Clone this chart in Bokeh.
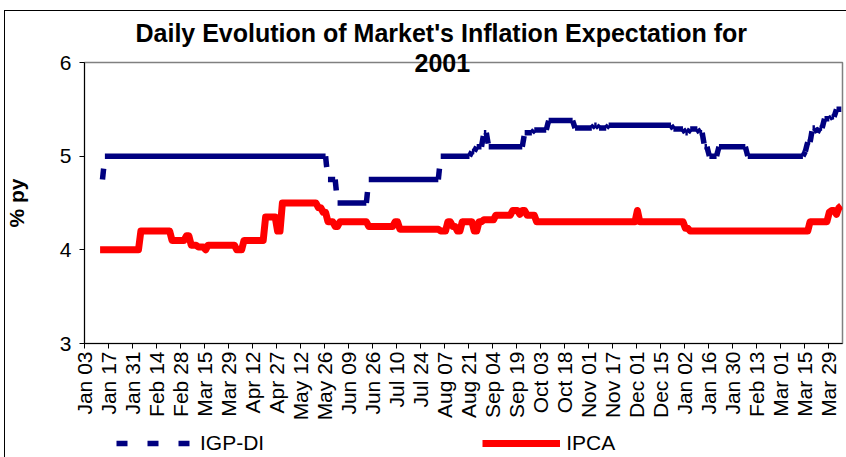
import math
import numpy as np
import pandas as pd
from bokeh.plotting import figure
from bokeh.layouts import column
from bokeh.models import Range1d, FixedTicker, Legend, LegendItem, Title
from bokeh.embed import file_html
from bokeh.resources import INLINE

# ---------------- data ----------------
holidays = ["2000-03-06", "2000-03-07", "2000-04-21", "2000-05-01", "2000-06-22",
            "2000-09-07", "2000-10-12", "2000-11-02", "2000-11-15", "2000-12-25",
            "2001-01-01", "2001-02-26", "2001-02-27"]

tick_labels = ["Jan 03", "Jan 17", "Jan 31", "Feb 14", "Feb 28", "Mar 15", "Mar 29",
               "Apr 12", "Apr 27", "May 12", "May 26", "Jun 09", "Jun 26", "Jul 10",
               "Jul 24", "Aug 07", "Aug 21", "Sep 04", "Sep 19", "Oct 03", "Oct 18",
               "Nov 01", "Nov 17", "Dec 01", "Dec 15", "Jan 02", "Jan 16", "Jan 30",
               "Feb 13", "Mar 01", "Mar 15", "Mar 29"]

# IPCA: dates where the expectation changed, and the new value
ipca_dates = ["2000-01-11", "2000-02-03", "2000-02-22", "2000-03-01", "2000-03-03",
              "2000-03-10", "2000-03-15", "2000-03-16", "2000-04-03", "2000-04-06",
              "2000-04-19", "2000-04-27", "2000-05-02", "2000-05-23", "2000-05-25",
              "2000-05-29", "2000-06-01", "2000-06-05", "2000-06-21", "2000-07-07",
              "2000-07-11", "2000-08-03", "2000-08-08", "2000-08-10", "2000-08-14",
              "2000-08-16", "2000-08-23", "2000-08-25", "2000-08-29", "2000-09-05",
              "2000-09-15", "2000-09-20", "2000-09-21", "2000-09-25", "2000-09-29",
              "2000-12-01", "2000-12-04", "2001-01-02", "2001-01-04", "2001-03-19",
              "2001-03-29", "2001-03-30", "2001-04-03", "2001-04-04", "2001-04-05"]
ipca_values = [4.00, 4.20, 4.10, 4.15, 4.05,
               4.03, 4.00, 4.05, 4.00, 4.10,
               4.35, 4.20, 4.50, 4.45, 4.40,
               4.30, 4.25, 4.30, 4.25, 4.30,
               4.22, 4.20, 4.30, 4.25, 4.20,
               4.30, 4.20, 4.30, 4.32, 4.37,
               4.42, 4.38, 4.42, 4.37, 4.30,
               4.42, 4.30, 4.23, 4.20, 4.30,
               4.40, 4.42, 4.38, 4.45, 4.47]

# IGP-DI
igp_dates = ["2000-01-12", "2000-01-13", "2000-05-29", "2000-06-02", "2000-06-21",
             "2000-08-03", "2000-08-22", "2000-08-24", "2000-08-29", "2000-08-31",
             "2000-09-22", "2000-09-28", "2000-10-06", "2000-10-24", "2000-11-06",
             "2000-11-08", "2000-11-14", "2000-12-22", "2001-01-02", "2001-01-04",
             "2001-01-10", "2001-01-12", "2001-01-16", "2001-01-22", "2001-02-07",
             "2001-03-15", "2001-03-16", "2001-03-20", "2001-03-22", "2001-03-23",
             "2001-03-27", "2001-03-30", "2001-04-03"]
igp_values = [4.75, 5.00, 4.75, 4.50, 4.75,
              5.00, 5.05, 5.10, 5.25, 5.10,
              5.25, 5.28, 5.38, 5.30, 5.33,
              5.30, 5.33, 5.29, 5.25, 5.29,
              5.25, 5.10, 5.00, 5.10, 5.00,
              5.05, 5.15, 5.30, 5.25, 5.30,
              5.40, 5.42, 5.50]

# ---------------- build daily series ----------------
days = pd.bdate_range("2000-01-03", "2001-04-05")
days = days[~days.isin(pd.to_datetime(holidays))]
n = len(days)
xs = np.arange(n)


def daily(dates, vals):
    s = pd.Series(np.nan, index=days)
    s.loc[pd.to_datetime(dates)] = vals
    return s.ffill().to_numpy()


ipca = daily(ipca_dates, ipca_values)
igp = daily(igp_dates, igp_values)

# IGP-DI drawn Excel-like: flat runs solid, day-to-day jumps dashed
run_xs, run_ys = [], []
jx0, jy0, jx1, jy1 = [], [], [], []
start = None
for i in range(n):
    if np.isnan(igp[i]):
        continue
    if start is None:
        start = i
    last = (i == n - 1) or igp[i + 1] != igp[i]
    if last:
        if i > start:
            run_xs.append([start, i])
            run_ys.append([igp[i], igp[i]])
        if i < n - 1:
            jx0.append(i); jy0.append(igp[i]); jx1.append(i + 1); jy1.append(igp[i + 1])
        start = None

# ---------------- styles ----------------
FONT = "Liberation Sans"
RED, NAVY = "#FF0000", "#000080"
ipca_style = dict(line_color=RED, line_width=7, line_join="round")
igp_style = dict(line_color=NAVY, line_width=5.5, line_cap="butt")

# ---------------- main figure ----------------
p = figure(width=846, height=427, output_backend="svg", toolbar_location=None,
           x_range=Range1d(-0.5, n - 0.5), y_range=Range1d(3, 6),
           min_border_left=84, min_border_right=4, min_border_top=62, min_border_bottom=84,
           outline_line_color="#808080", outline_line_width=1.5,
           background_fill_color="white", border_fill_alpha=0)
p.styles = {
    "background": ("linear-gradient(#000, #000) 4px 10px / 1px 100% no-repeat, "
                   "linear-gradient(#000, #000) 4px 10px / 100% 1px no-repeat, white"),
}
p.xgrid.visible = False
p.ygrid.visible = False

p.line(xs, ipca, **ipca_style)
p.multi_line(run_xs, run_ys, **igp_style)
p.segment(x0=jx0, y0=jy0, x1=jx1, y1=jy1, line_dash="11 20", **igp_style)

# axes
tick_pos = [10 * k - 0.5 for k in range(len(tick_labels))]
p.xaxis.ticker = FixedTicker(ticks=tick_pos)
p.xaxis.major_label_overrides = {t: lab for t, lab in zip(tick_pos, tick_labels)}
p.xaxis.major_label_orientation = math.pi / 2
p.xaxis.major_label_standoff = 3
p.xaxis.major_label_text_font = FONT
p.xaxis.major_label_text_font_size = "21px"
p.xaxis.major_label_text_color = "black"
p.xaxis.minor_tick_line_color = None
p.xaxis.major_tick_out = 5
p.xaxis.major_tick_in = 0
p.xaxis.axis_line_color = "black"
p.xaxis.major_tick_line_color = "black"

p.yaxis.ticker = FixedTicker(ticks=[3, 4, 5, 6])
p.yaxis.major_label_text_font = FONT
p.yaxis.major_label_text_font_size = "21px"
p.yaxis.major_label_text_color = "black"
p.yaxis.major_label_standoff = 8
p.yaxis.minor_tick_line_color = None
p.yaxis.major_tick_out = 5
p.yaxis.major_tick_in = 0
p.yaxis.axis_line_color = "black"
p.yaxis.major_tick_line_color = "black"
p.yaxis.axis_label = "% py"
p.yaxis.axis_label_text_font = FONT
p.yaxis.axis_label_text_font_style = "bold"
p.yaxis.axis_label_text_font_size = "21px"
p.yaxis.axis_label_text_color = "black"
p.yaxis.axis_label_standoff = 29

# title: two lines, the second one sitting on the top edge of the plot area
title_style = dict(align="left", text_font=FONT, text_font_style="bold",
                   text_font_size="25px", text_color="black")
p.add_layout(Title(text="2001", offset=330, standoff=-19, **title_style), "above")
p.add_layout(Title(text="Daily Evolution of Market's Inflation Expectation for",
                   offset=51, standoff=30, **title_style), "above")

# ---------------- legend strip ----------------
# legend renderers carry the real series; the strip's y-range keeps them out of view
pl = figure(width=846, height=30, output_backend="svg", toolbar_location=None,
            x_range=Range1d(-0.5, n - 0.5), y_range=Range1d(0, 1),
            min_border_left=0, min_border_right=0, min_border_top=0, min_border_bottom=0,
            outline_line_color=None, border_fill_alpha=0, background_fill_alpha=0)
pl.styles = {"background": "linear-gradient(#000, #000) 4px 0 / 1px 100% no-repeat, white"}
pl.axis.visible = False
pl.xgrid.visible = False
pl.ygrid.visible = False
leg_igp = pl.segment(x0=jx0, y0=jy0, x1=jx1, y1=jy1, line_dash="11 20", **igp_style)
leg_ipca = pl.line(xs, ipca, **ipca_style)
legend = Legend(items=[LegendItem(label="IGP-DI", renderers=[leg_igp]),
                       LegendItem(label="IPCA", renderers=[leg_ipca])],
                location=(32, 2), orientation="horizontal", padding=0, margin=0,
                spacing=218, border_line_alpha=0, background_fill_alpha=0,
                label_text_font=FONT, label_text_font_size="21px", label_text_color="black",
                glyph_height=20, glyph_width=78, label_standoff=6)
pl.add_layout(legend)

layout = column(p, pl, spacing=0)
open("out.html", "w").write(file_html(layout, INLINE))
